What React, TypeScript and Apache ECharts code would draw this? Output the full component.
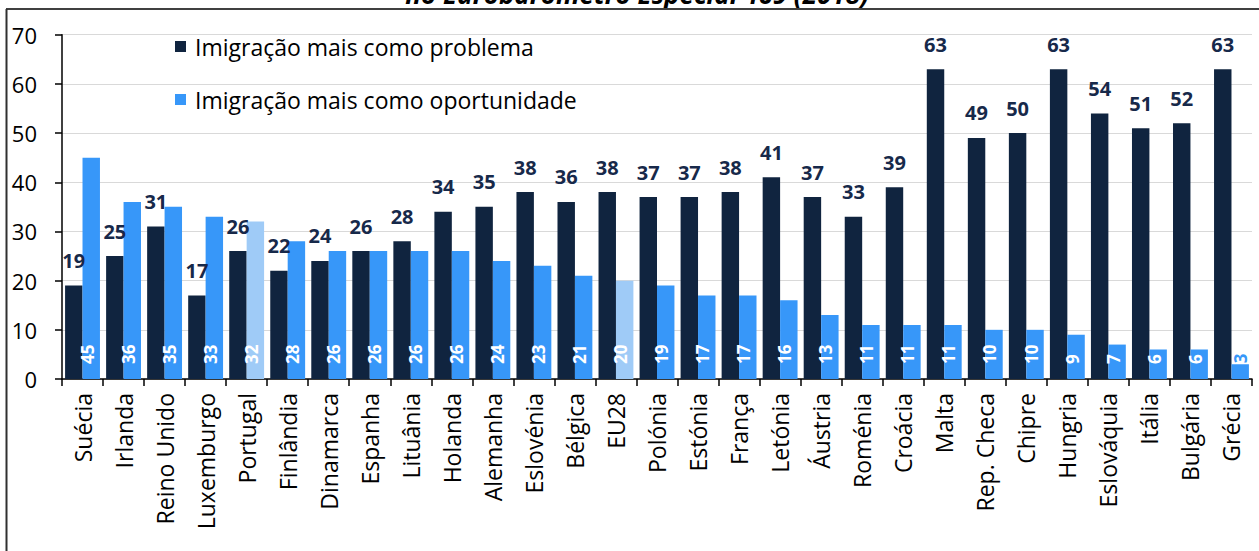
import React, { useEffect, useRef } from "react";
import * as echarts from "echarts";

const countries = [
  "Suécia", "Irlanda", "Reino Unido", "Luxemburgo", "Portugal", "Finlândia", "Dinamarca",
  "Espanha", "Lituânia", "Holanda", "Alemanha", "Eslovénia", "Bélgica", "EU28", "Polónia",
  "Estónia", "França", "Letónia", "Áustria", "Roménia", "Croácia", "Malta", "Rep. Checa",
  "Chipre", "Hungria", "Eslováquia", "Itália", "Bulgária", "Grécia",
];
const problema = [19, 25, 31, 17, 26, 22, 24, 26, 28, 34, 35, 38, 36, 38, 37, 37, 38, 41, 37, 33, 39, 63, 49, 50, 63, 54, 51, 52, 63];
const oportunidade = [45, 36, 35, 33, 32, 28, 26, 26, 26, 26, 24, 23, 21, 20, 19, 17, 17, 16, 13, 11, 11, 11, 10, 10, 9, 7, 6, 6, 3];
const highlighted = ["Portugal", "EU28"];
const seriesNames = ["Imigração mais como problema", "Imigração mais como oportunidade"];
const titleText = "no Eurobarómetro Especial 469 (2018)";

const DARK = "#10243F";
const BLUE = "#3797F9";
const LIGHT = "#9FCBF7";
const FONT = "Open Sans";

export default function App() {
  const ref = useRef<HTMLDivElement>(null);
  useEffect(() => {
    if (!ref.current) return;
    const chart = echarts.init(ref.current, undefined, { renderer: "svg" });
    const oppData = oportunidade.map((v, i) => {
      const item: any = { value: v };
      if (highlighted.includes(countries[i])) item.itemStyle = { color: LIGHT };
      if (v < 5) {
        item.label = {
          position: "top",
          color: BLUE,
          distance: 1,
          rotate: 90,
          align: "left",
          verticalAlign: "middle",
          offset: [0, 0],
        };
      }
      return item;
    });
    chart.setOption({
      animation: false,
      textStyle: { fontFamily: FONT },
      grid: { left: 62, right: 7, top: 34.7, bottom: 172, containLabel: false },
      legend: {
        orient: "vertical",
        left: 170,
        top: 30,
        itemWidth: 11,
        itemHeight: 11,
        itemGap: 30,
        icon: "rect",
        textStyle: { fontFamily: FONT, fontSize: 23, color: "#000", padding: [0, 0, 0, 4] },
        data: seriesNames,
      },
      graphic: [
        {
          type: "text",
          x: 637,
          y: 7,
          style: {
            text: titleText,
            font: `italic bold 26px "${FONT}"`,
            fill: "#000",
            textAlign: "center",
            textVerticalAlign: "bottom",
          },
        },
        {
          type: "line",
          shape: { x1: 6, y1: 9, x2: 1259, y2: 9 },
          style: { stroke: "#404040", lineWidth: 2 },
        },
        {
          type: "line",
          shape: { x1: 6.5, y1: 9, x2: 6.5, y2: 551 },
          style: { stroke: "#303030", lineWidth: 2 },
        },
      ],
      xAxis: {
        type: "category",
        data: countries,
        axisLine: { lineStyle: { color: "#000", width: 1.5 } },
        axisTick: { show: true, length: 7, lineStyle: { color: "#000", width: 1.5 } },
        axisLabel: { rotate: 90, fontSize: 23, color: "#000", margin: 14, fontFamily: FONT, interval: 0 },
      },
      yAxis: {
        type: "value",
        min: 0,
        max: 70,
        interval: 10,
        axisLine: { show: true, lineStyle: { color: "#000", width: 1.5 } },
        axisTick: { show: true, length: 7, lineStyle: { color: "#000", width: 1.5 } },
        axisLabel: { fontSize: 22, color: "#000", margin: 25, fontFamily: FONT },
        splitLine: { lineStyle: { color: "#D9D9D9", width: 1 } },
      },
      series: [
        {
          name: seriesNames[0],
          type: "bar",
          data: problema,
          barGap: "0%",
          barCategoryGap: "15%",
          itemStyle: { color: DARK },
          label: {
            show: true,
            position: "top",
            distance: 15,
            fontSize: 20,
            fontWeight: "bold",
            color: "#17294A",
            fontFamily: FONT,
          },
        },
        {
          name: seriesNames[1],
          type: "bar",
          data: oppData,
          barGap: "0%",
          barCategoryGap: "15%",
          itemStyle: { color: BLUE },
          label: {
            show: true,
            position: "insideBottom",
            distance: 15,
            rotate: 90,
            align: "left",
            verticalAlign: "middle",
            offset: [0, -4],
            fontSize: 17,
            fontWeight: "bold",
            color: "#fff",
            fontFamily: FONT,
          },
        },
      ],
    });
    return () => chart.dispose();
  }, []);
  return (
    <div
      ref={ref}
      style={{ position: "fixed", left: 0, top: 0, width: 1259, height: 551, background: "#fff" }}
    />
  );
}
